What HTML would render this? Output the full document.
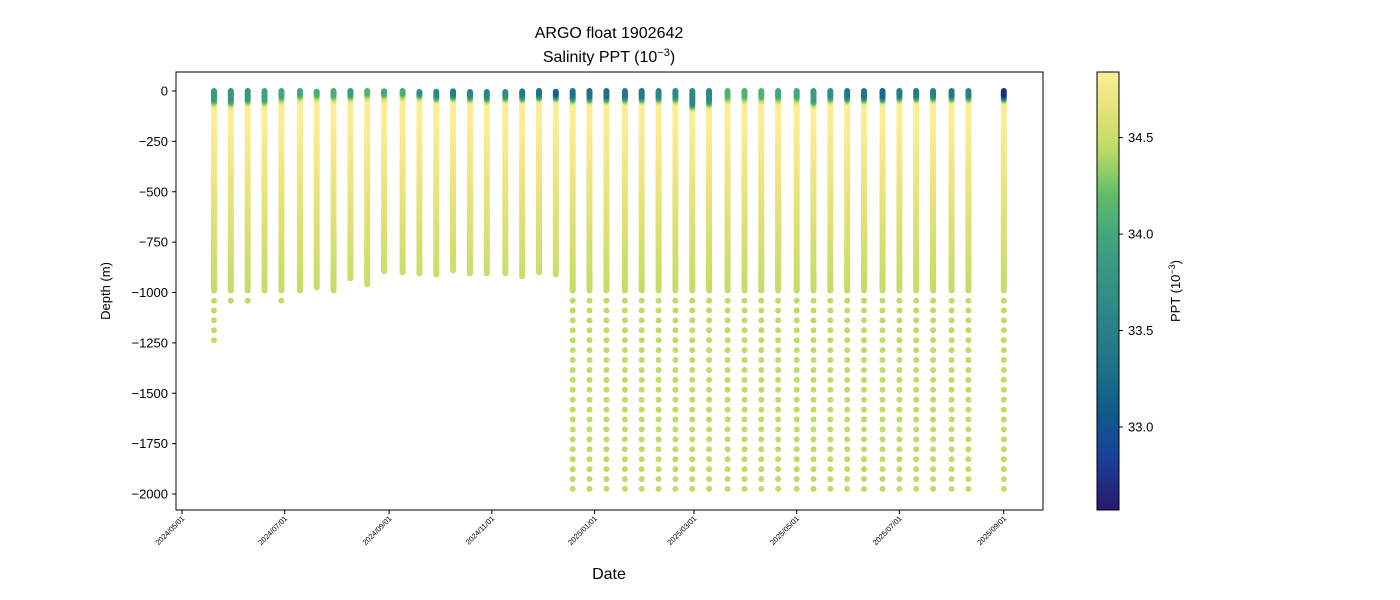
<!DOCTYPE html>
<html><head><meta charset="utf-8"><style>
body{margin:0;background:#fff;}
svg{display:block;font-family:"Liberation Sans","DejaVu Sans",sans-serif;}
</style></head><body>
<svg id="chart" width="1400" height="600" viewBox="0 0 1400 600">
<defs>
<linearGradient id="cbgrad" x1="0" y1="1" x2="0" y2="0">
<stop offset="0" stop-color="#2a186c"/><stop offset="0.12" stop-color="#19409a"/><stop offset="0.22" stop-color="#0f5b8a"/><stop offset="0.35" stop-color="#22768a"/><stop offset="0.5" stop-color="#338f86"/><stop offset="0.62" stop-color="#40a57d"/><stop offset="0.72" stop-color="#62bd6a"/><stop offset="0.83" stop-color="#c2dd64"/><stop offset="0.92" stop-color="#e6e37a"/><stop offset="1" stop-color="#fdee99"/>
</linearGradient>
<clipPath id="plotclip"><rect x="176" y="72" width="867" height="438"/></clipPath>
</defs>
<text x="609" y="38" text-anchor="middle" font-size="16">ARGO float 1902642</text>
<text x="609" y="62" text-anchor="middle" font-size="16">Salinity PPT (10<tspan dy="-6" font-size="11">−3</tspan><tspan dy="6">)</tspan></text>
<g id="marks" clip-path="url(#plotclip)"></g>
<rect x="176" y="72" width="867" height="438" fill="none" stroke="#000" stroke-width="1"/>
<g id="yaxis"></g>
<g id="xaxis"></g>
<text transform="translate(110,291) rotate(-90)" text-anchor="middle" font-size="13">Depth (m)</text>
<text x="609" y="579" text-anchor="middle" font-size="16">Date</text>
<rect x="1097" y="72" width="22" height="438" fill="url(#cbgrad)" stroke="#000" stroke-width="1"/>
<g id="cbaxis"></g>
<text transform="translate(1180,291) rotate(-90)" text-anchor="middle" font-size="13">PPT (10<tspan dy="-5" font-size="9">−3</tspan><tspan dy="5">)</tspan></text>
</svg>
<script>
// days since 2024-05-01 of each profile
const profileDays=[19,29,39,49,59,70,80,90,100,110,120,131,141,151,161,171,181,192,202,212,222,232,242,252,263,273,283,293,303,313,324,334,344,354,365,375,385,395,405,416,426,436,446,457,467,488];
const maxDepths=[1240,1040,1040,990,1040,990,975,990,930,960,895,900,905,910,890,905,905,905,920,900,910,1975,1975,1975,1975,1975,1975,1975,1975,1975,1975,1975,1975,1975,1975,1975,1975,1975,1975,1975,1975,1975,1975,1975,1975,1975];
const surfaceSal=[33.85,33.8,33.8,33.95,34.0,34.0,34.05,34.05,33.85,34.1,34.0,34.05,33.7,33.6,33.45,33.55,33.55,33.65,33.4,33.3,33.1,33.35,33.3,33.3,33.4,33.4,33.6,33.65,33.6,33.6,34.1,34.1,34.1,34.0,34.0,33.85,33.7,33.4,33.35,33.2,33.4,33.4,33.5,33.4,33.5,32.7];
const mixedLayer=[40,45,35,40,25,15,15,20,15,10,10,10,10,20,15,20,25,20,20,15,15,25,25,25,25,25,25,25,60,45,25,25,25,25,25,45,25,25,25,25,20,20,20,20,20,20];
const yTicks=[0,-250,-500,-750,-1000,-1250,-1500,-1750,-2000];
const xTickLabels=["2024/05/01","2024/07/01","2024/09/01","2024/11/01","2025/01/01","2025/03/01","2025/05/01","2025/07/01","2025/09/01"];
const xTickDays=[0,61,123,184,245,304,365,426,488];
const cbTicks=[33.0,33.5,34.0,34.5];

const NS="http://www.w3.org/2000/svg";
const xScale=d=>182+d*1.684;
const yScale=v=>91-v*0.2015;
const SMIN=32.57,SMAX=34.84;
const cbScale=s=>510-(s-SMIN)/(SMAX-SMIN)*438;
const stops=[[0,"#2a186c"],[0.12,"#19409a"],[0.22,"#0f5b8a"],[0.35,"#22768a"],[0.5,"#338f86"],[0.62,"#40a57d"],[0.72,"#62bd6a"],[0.83,"#c2dd64"],[0.92,"#e6e37a"],[1,"#fdee99"]];
function hex(h){return [1,3,5].map(i=>parseInt(h.substr(i,2),16));}
function cmap(s){
  let t=Math.max(0,Math.min(1,(s-SMIN)/(SMAX-SMIN)));
  for(let i=1;i<stops.length;i++){
    if(t<=stops[i][0]){
      const a=stops[i-1],b=stops[i];const f=(t-a[0])/(b[0]-a[0]);
      const ca=hex(a[1]),cb=hex(b[1]);
      return "rgb("+ca.map((v,k)=>Math.round(v+(cb[k]-v)*f)).join(",")+")";
    }
  }
  return stops[stops.length-1][1];
}
function sal(z,s0,mld){
  if(z<mld) return s0;
  if(z<mld+35) return s0+(34.82-s0)*(z-mld)/35;
  if(z<160) return 34.82;
  if(z<1000) return 34.82-0.37*(z-160)/840;
  return 34.45;
}
const marks=document.getElementById('marks');
profileDays.forEach((d,i)=>{
  const g=document.createElementNS(NS,'g');
  
  
  const x=xScale(d);
  const zs=[];
  const denseEnd=Math.min(maxDepths[i],990);
  for(let z=denseEnd;z>=0;z-=6) zs.push(z);
  for(let z=1040;z<=maxDepths[i]+1;z+=49.2) zs.push(z);
  zs.sort((a,b)=>b-a);
  zs.forEach(z=>{
    const c=document.createElementNS(NS,'circle');
    c.setAttribute('cx',x.toFixed(1));
    c.setAttribute('cy',yScale(-z).toFixed(1));
    c.setAttribute('r','3');
    c.setAttribute('fill',cmap(sal(z,surfaceSal[i],mixedLayer[i])));
    g.appendChild(c);
  });
  marks.appendChild(g);
});
const ya=document.getElementById('yaxis');
yTicks.forEach(v=>{
  const y=yScale(v);
  const l=document.createElementNS(NS,'line');
  l.setAttribute('x1',172);l.setAttribute('x2',176);l.setAttribute('y1',y);l.setAttribute('y2',y);l.setAttribute('stroke','#000');
  
  
  ya.appendChild(l);
  const t=document.createElementNS(NS,'text');
  t.setAttribute('x',168);t.setAttribute('y',y+4.5);t.setAttribute('text-anchor','end');t.setAttribute('font-size','13');
  t.textContent=(v<0?'\u2212':'')+Math.abs(v);
  
  
  ya.appendChild(t);
});
const xa=document.getElementById('xaxis');
xTickDays.forEach((d,i)=>{
  const x=xScale(d);
  const l=document.createElementNS(NS,'line');
  l.setAttribute('x1',x);l.setAttribute('x2',x);l.setAttribute('y1',510);l.setAttribute('y2',514);l.setAttribute('stroke','#000');
  
  
  xa.appendChild(l);
  const t=document.createElementNS(NS,'text');
  t.setAttribute('transform','translate('+(x+3)+',519) rotate(-45)');
  t.setAttribute('text-anchor','end');t.setAttribute('font-size','7.5');
  t.textContent=xTickLabels[i];
  
  
  xa.appendChild(t);
});
const ca=document.getElementById('cbaxis');
cbTicks.forEach(v=>{
  const y=cbScale(v);
  const l=document.createElementNS(NS,'line');
  l.setAttribute('x1',1119);l.setAttribute('x2',1123);l.setAttribute('y1',y);l.setAttribute('y2',y);l.setAttribute('stroke','#000');
  
  
  ca.appendChild(l);
  const t=document.createElementNS(NS,'text');
  t.setAttribute('x',1128);t.setAttribute('y',y+4.5);t.setAttribute('font-size','13');
  t.textContent=v.toFixed(1);
  
  
  ca.appendChild(t);
});
</script>
</body></html>
